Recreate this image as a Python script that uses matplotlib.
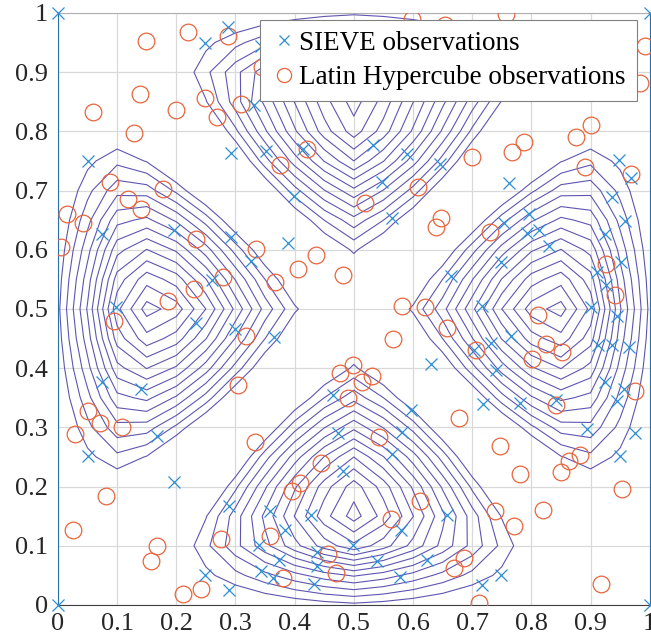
import numpy as np
import matplotlib
matplotlib.use("Agg")
import matplotlib.pyplot as plt

plt.rcParams['font.family'] = ['Liberation Serif', 'DejaVu Serif']

# SIEVE observations
sieve_x = [0.000, 0.288, 0.249, 0.343, 0.332, 0.050, 0.292, 0.351, 0.414, 0.399,
           0.075, 0.196, 0.292, 0.389, 0.326, 0.261, 0.098, 1.000, 0.533, 0.590,
           0.646, 0.548, 0.565, 0.762, 0.948, 0.968, 0.937, 0.959, 0.796, 0.754,
           0.793, 0.813, 0.830, 0.925, 0.748, 0.665, 0.952, 0.911, 0.926, 0.716,
           0.900, 0.233, 0.299, 0.365, 0.075, 0.141, 0.168, 0.050, 0.196, 0.289,
           0.359, 0.427, 0.383, 0.340, 0.374, 0.437, 0.437, 0.343, 0.364, 0.433,
           0.249, 0.289, 0.498, 0.465, 0.474, 0.482, 0.000, 0.944, 0.765, 0.731,
           0.703, 0.912, 0.936, 0.965, 0.630, 0.741, 0.924, 0.956, 0.944, 0.841,
           0.780, 0.718, 0.894, 0.976, 0.950, 0.597, 0.581, 0.565, 0.579, 0.658,
           0.539, 0.624, 0.578, 0.749, 0.717, 1.000]
sieve_y = [1.000, 0.977, 0.950, 0.944, 0.845, 0.750, 0.764, 0.767, 0.770, 0.691,
           0.626, 0.633, 0.622, 0.612, 0.581, 0.549, 0.503, 1.000, 0.777, 0.761,
           0.745, 0.715, 0.653, 0.713, 0.751, 0.722, 0.689, 0.649, 0.660, 0.646,
           0.628, 0.633, 0.606, 0.626, 0.580, 0.555, 0.579, 0.563, 0.541, 0.505,
           0.503, 0.477, 0.466, 0.453, 0.376, 0.364, 0.286, 0.251, 0.207, 0.167,
           0.159, 0.152, 0.127, 0.101, 0.076, 0.089, 0.065, 0.058, 0.045, 0.035,
           0.051, 0.025, 0.101, 0.354, 0.290, 0.227, 0.000, 0.488, 0.454, 0.442,
           0.431, 0.439, 0.439, 0.435, 0.407, 0.397, 0.377, 0.364, 0.345, 0.346,
           0.342, 0.339, 0.298, 0.290, 0.251, 0.330, 0.292, 0.255, 0.127, 0.152,
           0.074, 0.076, 0.048, 0.051, 0.033, 0.000]

# Latin Hypercube observations
lhs_x = [0.148, 0.220, 0.288, 0.345, 0.139, 0.249, 0.310, 0.060, 0.200, 0.268,
         0.129, 0.421, 0.376, 0.088, 0.178, 0.119, 0.140, 0.015, 0.043, 0.005,
         0.234, 0.334, 0.436, 0.405, 0.482, 0.367, 0.279, 0.230, 0.186, 0.599,
         0.654, 0.757, 0.992, 0.983, 0.900, 0.876, 0.787, 0.767, 0.699, 0.890,
         0.969, 0.609, 0.519, 0.647, 0.639, 0.730, 0.926, 0.942, 0.582, 0.620,
         0.811, 0.095, 0.317, 0.304, 0.050, 0.071, 0.109, 0.029, 0.333, 0.444,
         0.409, 0.395, 0.081, 0.026, 0.276, 0.358, 0.168, 0.158, 0.457, 0.470,
         0.381, 0.242, 0.212, 0.476, 0.498, 0.490, 0.658, 0.566, 0.706, 0.824,
         0.852, 0.801, 0.531, 0.513, 0.975, 0.841, 0.677, 0.543, 0.747, 0.882,
         0.863, 0.850, 0.780, 0.953, 0.819, 0.611, 0.738, 0.771, 0.562, 0.686,
         0.669, 0.712, 0.918]
lhs_y = [0.953, 0.967, 0.961, 0.909, 0.863, 0.857, 0.847, 0.832, 0.836, 0.824,
         0.798, 0.771, 0.744, 0.714, 0.703, 0.686, 0.669, 0.660, 0.645, 0.605,
         0.618, 0.601, 0.591, 0.567, 0.558, 0.546, 0.554, 0.534, 0.514, 0.990,
         0.980, 0.999, 0.944, 0.882, 0.810, 0.790, 0.782, 0.765, 0.756, 0.739,
         0.728, 0.706, 0.679, 0.653, 0.638, 0.630, 0.576, 0.524, 0.505, 0.503,
         0.490, 0.479, 0.454, 0.371, 0.327, 0.307, 0.301, 0.288, 0.276, 0.239,
         0.206, 0.193, 0.184, 0.127, 0.111, 0.117, 0.100, 0.074, 0.086, 0.054,
         0.045, 0.027, 0.019, 0.391, 0.405, 0.350, 0.467, 0.449, 0.430, 0.440,
         0.427, 0.416, 0.387, 0.376, 0.361, 0.338, 0.315, 0.284, 0.268, 0.253,
         0.243, 0.225, 0.221, 0.196, 0.160, 0.176, 0.159, 0.134, 0.145, 0.079,
         0.063, 0.003, 0.035]

ticks = [0, 0.1, 0.2, 0.3, 0.4, 0.5, 0.6, 0.7, 0.8, 0.9, 1]
tick_labels = ["0", "0.1", "0.2", "0.3", "0.4", "0.5", "0.6", "0.7", "0.8", "0.9", "1"]

# four-bump test function sampled on a coarse 21x21 grid
n_grid = 21
ring_r = 0.35
ang_width = 41.6
ang_pow = 1.3
s_in = 0.14
edge_band = 0.15
s_edge = 0.08
levels = np.linspace(0.19, 0.97, 13)

g = np.linspace(0, 1, n_grid)
X, Y = np.meshgrid(g, g)
dx, dy = X - 0.5, Y - 0.5
r = np.hypot(dx, dy)
th = np.degrees(np.arctan2(dy, dx))
delta = np.abs(np.mod(th + 45, 90) - 45)
A = np.clip(1 - (delta / ang_width) ** ang_pow, 0, None)
R = np.exp(-np.clip(ring_r - r, 0, None) ** 2 / (2 * s_in ** 2))
t = np.minimum(np.minimum(X, 1 - X), np.minimum(Y, 1 - Y))
E = np.exp(-np.clip(edge_band - t, 0, None) ** 2 / (2 * s_edge ** 2))
Z = A * R * E

fig = plt.figure(figsize=(6.51, 6.41), dpi=100)
ax = fig.add_axes([0.089, 0.0562, 0.909, 0.9236])

ax.contour(X, Y, Z, levels=levels, colors="#5f55b0", linewidths=0.8, zorder=2)
ax.plot(sieve_x, sieve_y, "x", color="#2b8fd4", markersize=8, markeredgewidth=0.9,
        label="SIEVE observations", zorder=4, clip_on=False)
ax.plot(lhs_x, lhs_y, "o", mfc="none", mec="#e8653d", markersize=12, markeredgewidth=0.9,
        label="Latin Hypercube observations", zorder=3)

ax.set_xlim(0, 1)
ax.set_ylim(0, 1)
ax.set_xticks(ticks)
ax.set_xticklabels(tick_labels)
ax.set_yticks(ticks)
ax.set_yticklabels(tick_labels)
ax.tick_params(length=0, labelsize=19, colors="#262626")
ax.tick_params(axis="x", pad=6)
ax.tick_params(axis="y", pad=7)
ax.grid(True, color="#d9d9d9", linewidth=0.9, zorder=0)
ax.set_axisbelow(True)

for side in ["left", "right"]:
    ax.spines[side].set_color("#2b6fa8")
ax.spines["top"].set_color("#b0b0b0")
ax.spines["bottom"].set_color("#404040")

leg = ax.legend(loc="upper right", bbox_to_anchor=(0.978, 0.988), borderaxespad=0,
                fontsize=19.5, fancybox=False, framealpha=1, edgecolor="#808080",
                borderpad=0.4, handletextpad=0.05, handlelength=1.0,
                labelspacing=0.35, markerscale=0.85)
leg.get_frame().set_linewidth(0.8)

fig.savefig("out.png", dpi=100)
